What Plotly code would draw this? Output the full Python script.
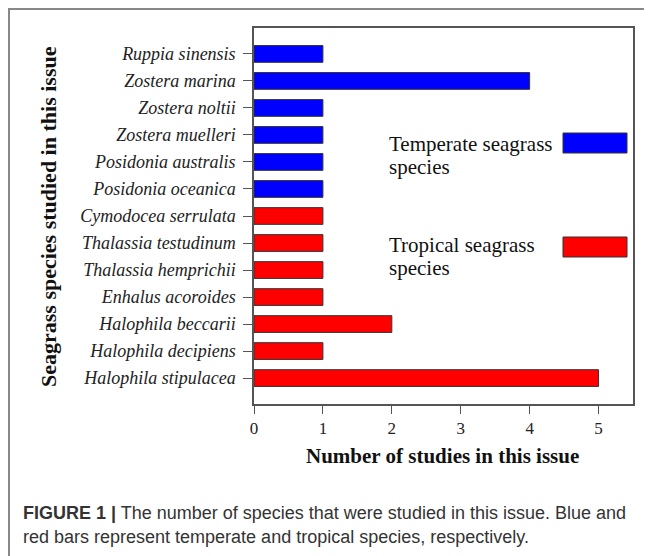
import plotly.graph_objects as go

# ---- data ----
temperate_species = ["Ruppia sinensis", "Zostera marina", "Zostera noltii",
                     "Zostera muelleri", "Posidonia australis", "Posidonia oceanica"]
temperate_counts = [1, 4, 1, 1, 1, 1]
tropical_species = ["Cymodocea serrulata", "Thalassia testudinum", "Thalassia hemprichii",
                    "Enhalus acoroides", "Halophila beccarii", "Halophila decipiens",
                    "Halophila stipulacea"]
tropical_counts = [1, 1, 1, 1, 2, 1, 5]
x_ticks = [0, 1, 2, 3, 4, 5]

W, H = 652, 556
OFF = 8  # page body offset
L, R, T, B = 254 - OFF, 633 - OFF, 28 - OFF, 404 - OFF


def px(x):
    return (x - OFF - L) / (R - L)


def py(y):
    return (B - (y - OFF)) / (B - T)


order = temperate_species + tropical_species
serif = "Liberation Serif, Times New Roman, serif"
sans = "Liberation Sans, Arial, sans-serif"

fig = go.Figure()
fig.add_trace(go.Bar(y=temperate_species, x=temperate_counts, orientation="h",
                     width=0.62, marker=dict(color="#0000FF", line=dict(color="#333333", width=1)),
                     name="Temperate seagrass species", showlegend=False))
fig.add_trace(go.Bar(y=tropical_species, x=tropical_counts, orientation="h",
                     width=0.62, marker=dict(color="#FF0000", line=dict(color="#333333", width=1)),
                     name="Tropical seagrass species", showlegend=False))

fig.update_layout(
    width=W, height=H,
    margin=dict(l=L, r=W - R, t=T, b=H - B, pad=0),
    paper_bgcolor="white", plot_bgcolor="white",
    xaxis=dict(range=[0, 5.5], tickvals=x_ticks, ticks="outside", ticklen=8,
               tickcolor="#555555", showline=True, linecolor="#555555", linewidth=1.5,
               mirror=True, showgrid=False, zeroline=False,
               tickfont=dict(family=serif, size=17, color="#222222")),
    yaxis=dict(categoryorder="array", categoryarray=order, range=[12.96, -0.96],
               ticks="outside", ticklen=9, tickcolor="#555555", showline=True,
               linecolor="#555555", linewidth=1.5, mirror=True, showgrid=False,
               ticklabelstandoff=4,
               tickfont=dict(family=serif, size=18, color="#222222", style="italic")),
)

ann = []
# axis titles
ann.append(dict(text="<b>Seagrass species studied in this issue</b>", x=px(48), y=py(217),
                xref="paper", yref="paper", showarrow=False, textangle=-90,
                xanchor="center", yanchor="middle",
                font=dict(family=serif, size=22, color="#111111")))
ann.append(dict(text="<b>Number of studies in this issue</b>", x=px(442), y=py(456),
                xref="paper", yref="paper", showarrow=False,
                xanchor="center", yanchor="middle",
                font=dict(family=serif, size=21, color="#111111")))
# legend text
for txt, yy in [("Temperate seagrass", 144), ("species", 167),
                ("Tropical seagrass", 245), ("species", 268)]:
    ann.append(dict(text=txt, x=px(387), y=py(yy), xref="paper", yref="paper",
                    showarrow=False, xanchor="left", yanchor="middle",
                    font=dict(family=serif, size=21, color="#111111")))
# caption
ann.append(dict(text="<b>FIGURE 1 |</b> The number of species that were studied in this issue. Blue and",
                x=px(21), y=py(513), xref="paper", yref="paper", showarrow=False,
                xanchor="left", yanchor="middle",
                font=dict(family=sans, size=18, color="#333333")))
ann.append(dict(text="red bars represent temperate and tropical species, respectively.",
                x=px(21), y=py(537), xref="paper", yref="paper", showarrow=False,
                xanchor="left", yanchor="middle",
                font=dict(family=sans, size=18, color="#333333")))
fig.update_layout(annotations=ann)

shapes = []
# legend swatches
shapes.append(dict(type="rect", xref="paper", yref="paper", x0=px(563), x1=px(627),
                   y0=py(153), y1=py(133), fillcolor="#0000FF",
                   line=dict(color="#333333", width=1)))
shapes.append(dict(type="rect", xref="paper", yref="paper", x0=px(563), x1=px(627),
                   y0=py(257), y1=py(237), fillcolor="#FF0000",
                   line=dict(color="#333333", width=1)))
# outer frame (left and top edges)
shapes.append(dict(type="line", xref="paper", yref="paper", x0=px(OFF + 1), x1=px(OFF + 1),
                   y0=py(OFF), y1=py(580), line=dict(color="#888888", width=2)))
shapes.append(dict(type="line", xref="paper", yref="paper", x0=px(OFF), x1=px(680),
                   y0=py(OFF + 1), y1=py(OFF + 1), line=dict(color="#888888", width=2)))
fig.update_layout(shapes=shapes)

fig.write_html("out.html")
